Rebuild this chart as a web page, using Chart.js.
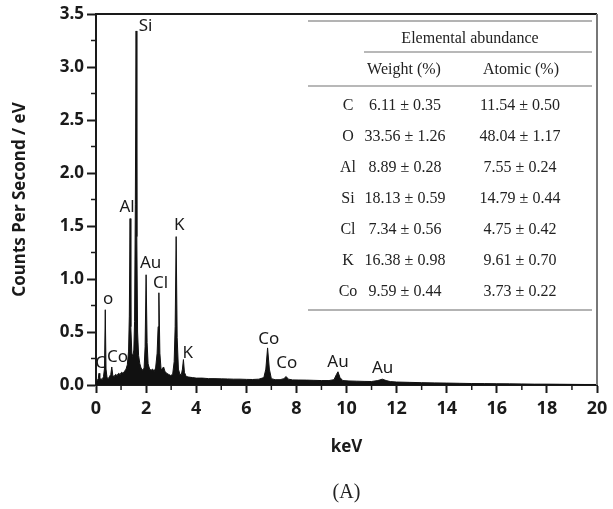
<!DOCTYPE html>
<html>
<head>
<meta charset="utf-8">
<script src="https://cdn.jsdelivr.net/npm/chart.js@4"></script>
<style>
  html, body { margin: 0; padding: 0; background: #fff; }
</style>
</head>
<body>
<canvas id="myChart" width="613" height="509"></canvas>
<script>
// EDS spectrum (keV vs counts per second / eV)
const energy = [
  0, 0.03, 0.06, 0.09, 0.12, 0.15, 0.20, 0.25, 0.30, 0.34,
  0.37, 0.40, 0.44, 0.49, 0.54, 0.59, 0.63, 0.67, 0.72, 0.78,
  0.84, 0.90, 0.96, 1.02, 1.08, 1.14, 1.20, 1.25, 1.30, 1.33,
  1.36, 1.39, 1.43, 1.47, 1.51, 1.54, 1.57, 1.60, 1.63, 1.66,
  1.70, 1.75, 1.80, 1.86, 1.92, 1.96, 2.00, 2.04, 2.08, 2.14,
  2.20, 2.26, 2.32, 2.38, 2.44, 2.48, 2.51, 2.55, 2.60, 2.66,
  2.70, 2.75, 2.82, 2.90, 2.98, 3.06, 3.12, 3.16, 3.20, 3.24,
  3.29, 3.35, 3.41, 3.45, 3.49, 3.53, 3.60, 3.70, 3.85, 4.00,
  4.25, 4.50, 4.75, 5.00, 5.25, 5.50, 5.75, 6.00, 6.25, 6.50,
  6.70, 6.78, 6.85, 6.92, 7.00, 7.15, 7.35, 7.50, 7.59, 7.68,
  7.85, 8.10, 8.40, 8.70, 9.00, 9.30, 9.50, 9.60, 9.66, 9.74,
  9.85, 10.1, 10.4, 10.7, 11.0, 11.25, 11.43, 11.58, 11.75, 12.0,
  12.5, 13.0, 13.5, 14.0, 14.5, 15.0, 15.5, 16.0, 16.5, 17.0,
  17.5, 18.0, 18.5, 19.0, 19.5, 20.0
];
const counts = [
  0, 0.03, 0.05, 0.06, 0.11, 0.05, 0.06, 0.05, 0.08, 0.16,
  0.71, 0.15, 0.07, 0.06, 0.08, 0.10, 0.17, 0.09, 0.08, 0.10,
  0.09, 0.11, 0.10, 0.12, 0.11, 0.13, 0.15, 0.19, 0.32, 0.65,
  1.57, 0.55, 0.30, 0.27, 0.33, 0.60, 1.70, 3.34, 1.40, 0.50,
  0.28, 0.20, 0.16, 0.14, 0.16, 0.36, 1.04, 0.40, 0.20, 0.15,
  0.14, 0.15, 0.13, 0.16, 0.30, 0.55, 0.87, 0.30, 0.14, 0.16,
  0.17, 0.13, 0.11, 0.10, 0.09, 0.10, 0.22, 0.55, 1.40, 0.45,
  0.15, 0.10, 0.10, 0.15, 0.24, 0.12, 0.08, 0.075, 0.07, 0.065,
  0.065, 0.06, 0.06, 0.058, 0.057, 0.055, 0.055, 0.053, 0.052, 0.055,
  0.07, 0.15, 0.35, 0.15, 0.06, 0.05, 0.05, 0.06, 0.08, 0.055,
  0.048, 0.047, 0.046, 0.044, 0.042, 0.042, 0.05, 0.10, 0.125, 0.07,
  0.042, 0.038, 0.036, 0.034, 0.033, 0.042, 0.055, 0.042, 0.032, 0.028,
  0.025, 0.022, 0.020, 0.018, 0.016, 0.014, 0.013, 0.012, 0.011, 0.010,
  0.008, 0.008, 0.007, 0.006, 0.005, 0.005
];

const xTicks = [0, 2, 4, 6, 8, 10, 12, 14, 16, 18, 20];
const xMinor = [1, 3, 5, 7, 9, 11, 13, 15, 17, 19];
const yTicks = [0, 0.5, 1.0, 1.5, 2.0, 2.5, 3.0, 3.5];
const yMinor = [0.25, 0.75, 1.25, 1.75, 2.25, 2.75, 3.25];

// peak labels, anchored in data units (keV, cps)
const peakNames = ["Si", "Al", "Au", "Cl", "K", "o", "C", "Co", "K", "Co", "Co", "Au", "Au"];
const peakKeV   = [1.98, 1.24, 2.18, 2.58, 3.32, 0.48, 0.18, 0.86, 3.66, 6.90, 7.62, 9.66, 11.44];
const peakCps   = [3.39, 1.68, 1.15, 0.96, 1.51, 0.81, 0.21, 0.26, 0.30, 0.43, 0.21, 0.22, 0.16];

// elemental abundance table
const elements  = ["C", "O", "Al", "Si", "Cl", "K", "Co"];
const weight    = [6.11, 33.56, 8.89, 18.13, 7.34, 16.38, 9.59];
const weightErr = [0.35, 1.26, 0.28, 0.59, 0.56, 0.98, 0.44];
const atomic    = [11.54, 48.04, 7.55, 14.79, 4.75, 9.61, 3.73];
const atomicErr = [0.50, 1.17, 0.24, 0.44, 0.42, 0.70, 0.22];

const ink = "#1a1a1a";

const extras = {
  id: "extras",
  afterDraw(chart) {
    const ctx = chart.ctx;
    const x = chart.scales.x, y = chart.scales.y;
    const a = chart.chartArea;
    ctx.save();

    // top and right frame
    ctx.lineWidth = 2;
    ctx.strokeStyle = ink;
    ctx.beginPath();
    ctx.moveTo(a.left - 1, a.top);
    ctx.lineTo(a.right, a.top);
    ctx.stroke();
    ctx.strokeStyle = "#777";
    ctx.beginPath();
    ctx.moveTo(a.right, a.top);
    ctx.lineTo(a.right, a.bottom);
    ctx.stroke();

    // minor ticks
    ctx.strokeStyle = ink;
    ctx.lineWidth = 1.5;
    xMinor.forEach(v => {
      const px = x.getPixelForValue(v);
      ctx.beginPath();
      ctx.moveTo(px, a.bottom);
      ctx.lineTo(px, a.bottom + 5);
      ctx.stroke();
    });
    yMinor.forEach(v => {
      const py = y.getPixelForValue(v);
      ctx.beginPath();
      ctx.moveTo(a.left, py);
      ctx.lineTo(a.left - 5, py);
      ctx.stroke();
    });

    // peak labels
    ctx.fillStyle = ink;
    ctx.font = '17px "Noto Sans"';
    ctx.textAlign = "center";
    ctx.textBaseline = "middle";
    peakNames.forEach((n, i) => {
      ctx.fillText(n, x.getPixelForValue(peakKeV[i]), y.getPixelForValue(peakCps[i]));
    });

    // panel caption, centred under the plot
    ctx.fillStyle = "#222";
    ctx.font = '20px "Liberation Serif"';
    ctx.fillText("(A)", (a.left + a.right) / 2, 493);

    // table
    const tl = 308, tr = 592;
    ctx.strokeStyle = "#b3b3b3";
    ctx.lineWidth = 2;
    [[21, tl], [310, tl]].forEach(([ly, lx]) => {
      ctx.beginPath(); ctx.moveTo(lx, ly); ctx.lineTo(tr, ly); ctx.stroke();
    });
    ctx.strokeStyle = "#a0a0a0";
    ctx.lineWidth = 1.5;
    [[52, 364], [86, tl]].forEach(([ly, lx]) => {
      ctx.beginPath(); ctx.moveTo(lx, ly); ctx.lineTo(tr, ly); ctx.stroke();
    });

    ctx.font = '16px "Liberation Serif"';
    ctx.fillText("Elemental abundance", 470, 39);
    ctx.fillText("Weight (%)", 404, 70);
    ctx.fillText("Atomic (%)", 521, 70);
    elements.forEach((el, i) => {
      const ry = 106 + 31 * i;
      ctx.fillText(el, 348, ry);
      ctx.fillText(weight[i].toFixed(2) + " \u00b1 " + weightErr[i].toFixed(2), 405, ry);
      ctx.fillText(atomic[i].toFixed(2) + " \u00b1 " + atomicErr[i].toFixed(2), 520, ry);
    });

    ctx.restore();
  }
};

const config = {
  type: "line",
  data: {
    datasets: [{
      data: energy.map((e, i) => ({ x: e, y: counts[i] })),
      borderColor: "#111",
      backgroundColor: "#111",
      borderWidth: 1,
      pointRadius: 0,
      tension: 0,
      fill: "origin"
    }]
  },
  options: {
    responsive: false,
    animation: false,
    devicePixelRatio: 1,
    layout: { padding: { top: 14, right: 16, left: 0, bottom: 0 } },
    plugins: {
      legend: { display: false },
      tooltip: { enabled: false }
    },
    scales: {
      x: {
        type: "linear",
        min: 0,
        max: 20,
        afterBuildTicks: s => { s.ticks = xTicks.map(v => ({ value: v })); },
        afterFit: s => { s.height = 124; },
        ticks: {
          autoSkip: false,
          maxRotation: 0,
          padding: 5,
          color: ink,
          font: { family: "Noto Sans", size: 18, weight: "bold" }
        },
        grid: { drawOnChartArea: false, tickLength: 8, tickWidth: 2, tickColor: ink },
        border: { color: ink, width: 2 },
        title: {
          display: true,
          text: "keV",
          color: ink,
          font: { family: "Noto Sans", size: 17, weight: "bold" },
          padding: { top: 0, bottom: 52 }
        }
      },
      y: {
        min: 0,
        max: 3.5,
        afterBuildTicks: s => { s.ticks = yTicks.map(v => ({ value: v })); },
        afterFit: s => { s.width = 96; },
        ticks: {
          autoSkip: false,
          padding: 3,
          color: ink,
          font: { family: "Noto Sans", size: 17, weight: "bold" },
          callback: v => Number(v).toFixed(1)
        },
        grid: { drawOnChartArea: false, tickLength: 9, tickWidth: 2, tickColor: ink },
        border: { color: ink, width: 2 },
        title: {
          display: true,
          text: "Counts Per Second / eV",
          color: ink,
          font: { family: "Noto Sans", size: 17, weight: "bold" },
          padding: { top: 10, bottom: 0 }
        }
      }
    }
  },
  plugins: [extras]
};

const ctx = document.getElementById("myChart").getContext("2d");
const myChart = new Chart(ctx, config);
</script>
</body>
</html>
